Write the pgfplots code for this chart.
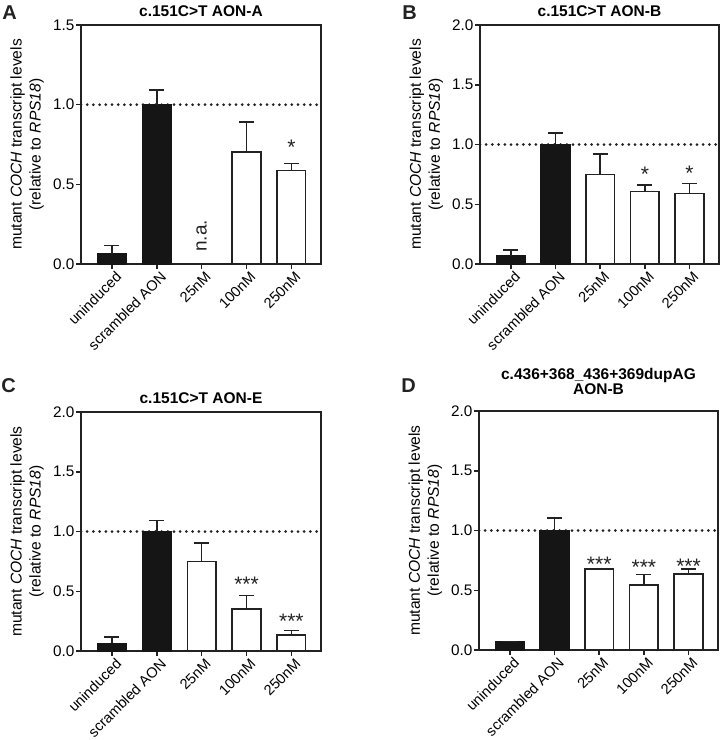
\documentclass[border=0pt]{standalone}
\usepackage{pgfplots}
\pgfplotsset{compat=1.18}
\usepackage{pgfplotstable}
\usepackage{fontspec}
\setmainfont{Liberation Sans}

\definecolor{barblack}{HTML}{151515}
\definecolor{axisgray}{HTML}{222222}

\pgfplotsset{
  panel/.style={
    scale only axis, width=240pt, height=239pt,
    xmin=-0.69, xmax=4.66, ymin=0,
    axis line style={axisgray, line width=1.5pt},
    tick style={axisgray, line width=1.5pt},
    tick align=outside, tick pos=left,
    major tick length=5pt,
    xtick={0,1,2,3,4},
    xticklabels={uninduced, scrambled AON, 25nM, 100nM, 250nM},
    x tick label style={rotate=45, anchor=north east, font=\fontsize{14.6}{16}\selectfont, inner sep=1pt, xshift=2pt, yshift=-2pt},
    y tick label style={font=\fontsize{15.3}{18}\selectfont, inner sep=1.5pt},
    /pgf/number format/assume math mode=true,
    yticklabel style={/pgf/number format/.cd, fixed, fixed zerofill, precision=1},
    ylabel={mutant \textit{COCH} transcript levels\\(relative to \textit{RPS18})},
    every axis y label/.style={at={(axis description cs:-0.225,0.5)}, rotate=90, anchor=center, align=center, font=\fontsize{15.6}{19}\selectfont},
    title style={font=\bfseries\fontsize{15.5}{14.7}\selectfont, at={(axis description cs:0.5,1)}, anchor=south, align=center, yshift=-1pt},
  },
  blackbar/.style={ybar, bar width=0.64, bar shift=0pt, fill=barblack, draw=barblack, line width=1.5pt,
    error bars/y dir=plus, error bars/y explicit, error bars/error mark=|,
    error bars/error bar style={line width=1.5pt, axisgray},
    error bars/error mark options={mark size=7.5pt, line width=1.5pt, axisgray}},
  whitebar/.style={ybar, bar width=0.64, bar shift=0pt, fill=white, draw=axisgray, line width=1.5pt,
    error bars/y dir=plus, error bars/y explicit, error bars/error mark=|,
    error bars/error bar style={line width=1.5pt, axisgray},
    error bars/error mark options={mark size=7.5pt, line width=1.5pt, axisgray}},
  refline/.style={axisgray, line width=3pt, line cap=round, dash pattern=on 0pt off 6.2pt},
  stars/.style={only marks, mark=none, point meta=explicit symbolic, nodes near coords,
    nodes near coords style={anchor=center, yshift=-4.5pt, font=\fontsize{21}{21}\selectfont, text=axisgray}},
}

% Panel A
\pgfplotstableread{
x y e
0 0.065 0.050
1 1.000 0.093
}\Ablack
\pgfplotstableread{
x y e
3 0.702 0.188
4 0.587 0.044
}\Awhite
% Panel B
\pgfplotstableread{
x y e
0 0.067 0.050
1 1.000 0.098
}\Bblack
\pgfplotstableread{
x y e
2 0.749 0.170
3 0.606 0.056
4 0.592 0.081
}\Bwhite
% Panel C
\pgfplotstableread{
x y e
0 0.064 0.053
1 1.000 0.092
}\Cblack
\pgfplotstableread{
x y e
2 0.749 0.153
3 0.352 0.114
4 0.134 0.036
}\Cwhite
% Panel D
\pgfplotstableread{
x y e
0 0.067 0.006
1 1.000 0.103
}\Dblack
\pgfplotstableread{
x y e
2 0.676 0.008
3 0.545 0.086
4 0.637 0.042
}\Dwhite

\begin{document}
\begin{tikzpicture}
\useasboundingbox (0pt,0pt) rectangle (722pt,-740pt);

% ---------- A ----------
\begin{axis}[panel, at={(81pt,-264pt)}, anchor=south west,
  ymax=1.5, ytick={0,0.5,1,1.5}, title={c.151C>T AON-A}]
  \addplot[refline] coordinates {(-0.69,1) (4.66,1)};
  \addplot[blackbar] table[x=x, y=y, y error=e] {\Ablack};
  \addplot[whitebar] table[x=x, y=y, y error=e] {\Awhite};
  \addplot[stars] coordinates {(4,0.759) [*]};
  \addplot[only marks, mark=none, point meta=explicit symbolic, nodes near coords,
    nodes near coords style={anchor=center, rotate=90, font=\fontsize{19}{19}\selectfont, text=axisgray}]
    coordinates {(2,0.176) [n.a.]};
\end{axis}

% ---------- B ----------
\begin{axis}[panel, at={(480pt,-264pt)}, anchor=south west, width=239pt,
  ymax=2, ytick={0,0.5,1,1.5,2}, title={c.151C>T AON-B}]
  \addplot[refline] coordinates {(-0.69,1) (4.66,1)};
  \addplot[blackbar] table[x=x, y=y, y error=e] {\Bblack};
  \addplot[whitebar] table[x=x, y=y, y error=e] {\Bwhite};
  \addplot[stars] coordinates {(3,0.787) [*] (4,0.795) [*]};
\end{axis}

% ---------- C ----------
\begin{axis}[panel, at={(81pt,-651pt)}, anchor=south west,
  ymax=2, ytick={0,0.5,1,1.5,2}, title={c.151C>T AON-E}]
  \addplot[refline] coordinates {(-0.69,1) (4.66,1)};
  \addplot[blackbar] table[x=x, y=y, y error=e] {\Cblack};
  \addplot[whitebar] table[x=x, y=y, y error=e] {\Cwhite};
  \addplot[stars] coordinates {(3,0.594) [***] (4,0.285) [***]};
\end{axis}

% ---------- D ----------
\begin{axis}[panel, at={(479pt,-650pt)}, anchor=south west, width=239pt,
  ymax=2, ytick={0,0.5,1,1.5,2}, title={c.436+368\_436+369dupAG\\AON-B},
  title style={yshift=8pt}]
  \addplot[refline] coordinates {(-0.69,1) (4.66,1)};
  \addplot[blackbar] table[x=x, y=y, y error=e] {\Dblack};
  \addplot[whitebar] table[x=x, y=y, y error=e] {\Dwhite};
  \addplot[stars] coordinates {(2,0.759) [***] (3,0.726) [***] (4,0.739) [***]};
\end{axis}

% panel letters
\node[font=\bfseries\fontsize{20}{24}\selectfont, text=axisgray] at (9.5pt,-12.5pt) {A};
\node[font=\bfseries\fontsize{20}{24}\selectfont, text=axisgray] at (409.5pt,-12.5pt) {B};
\node[font=\bfseries\fontsize{20}{24}\selectfont, text=axisgray] at (8.5pt,-386pt) {C};
\node[font=\bfseries\fontsize{20}{24}\selectfont, text=axisgray] at (408.5pt,-386pt) {D};
\end{tikzpicture}
\end{document}
